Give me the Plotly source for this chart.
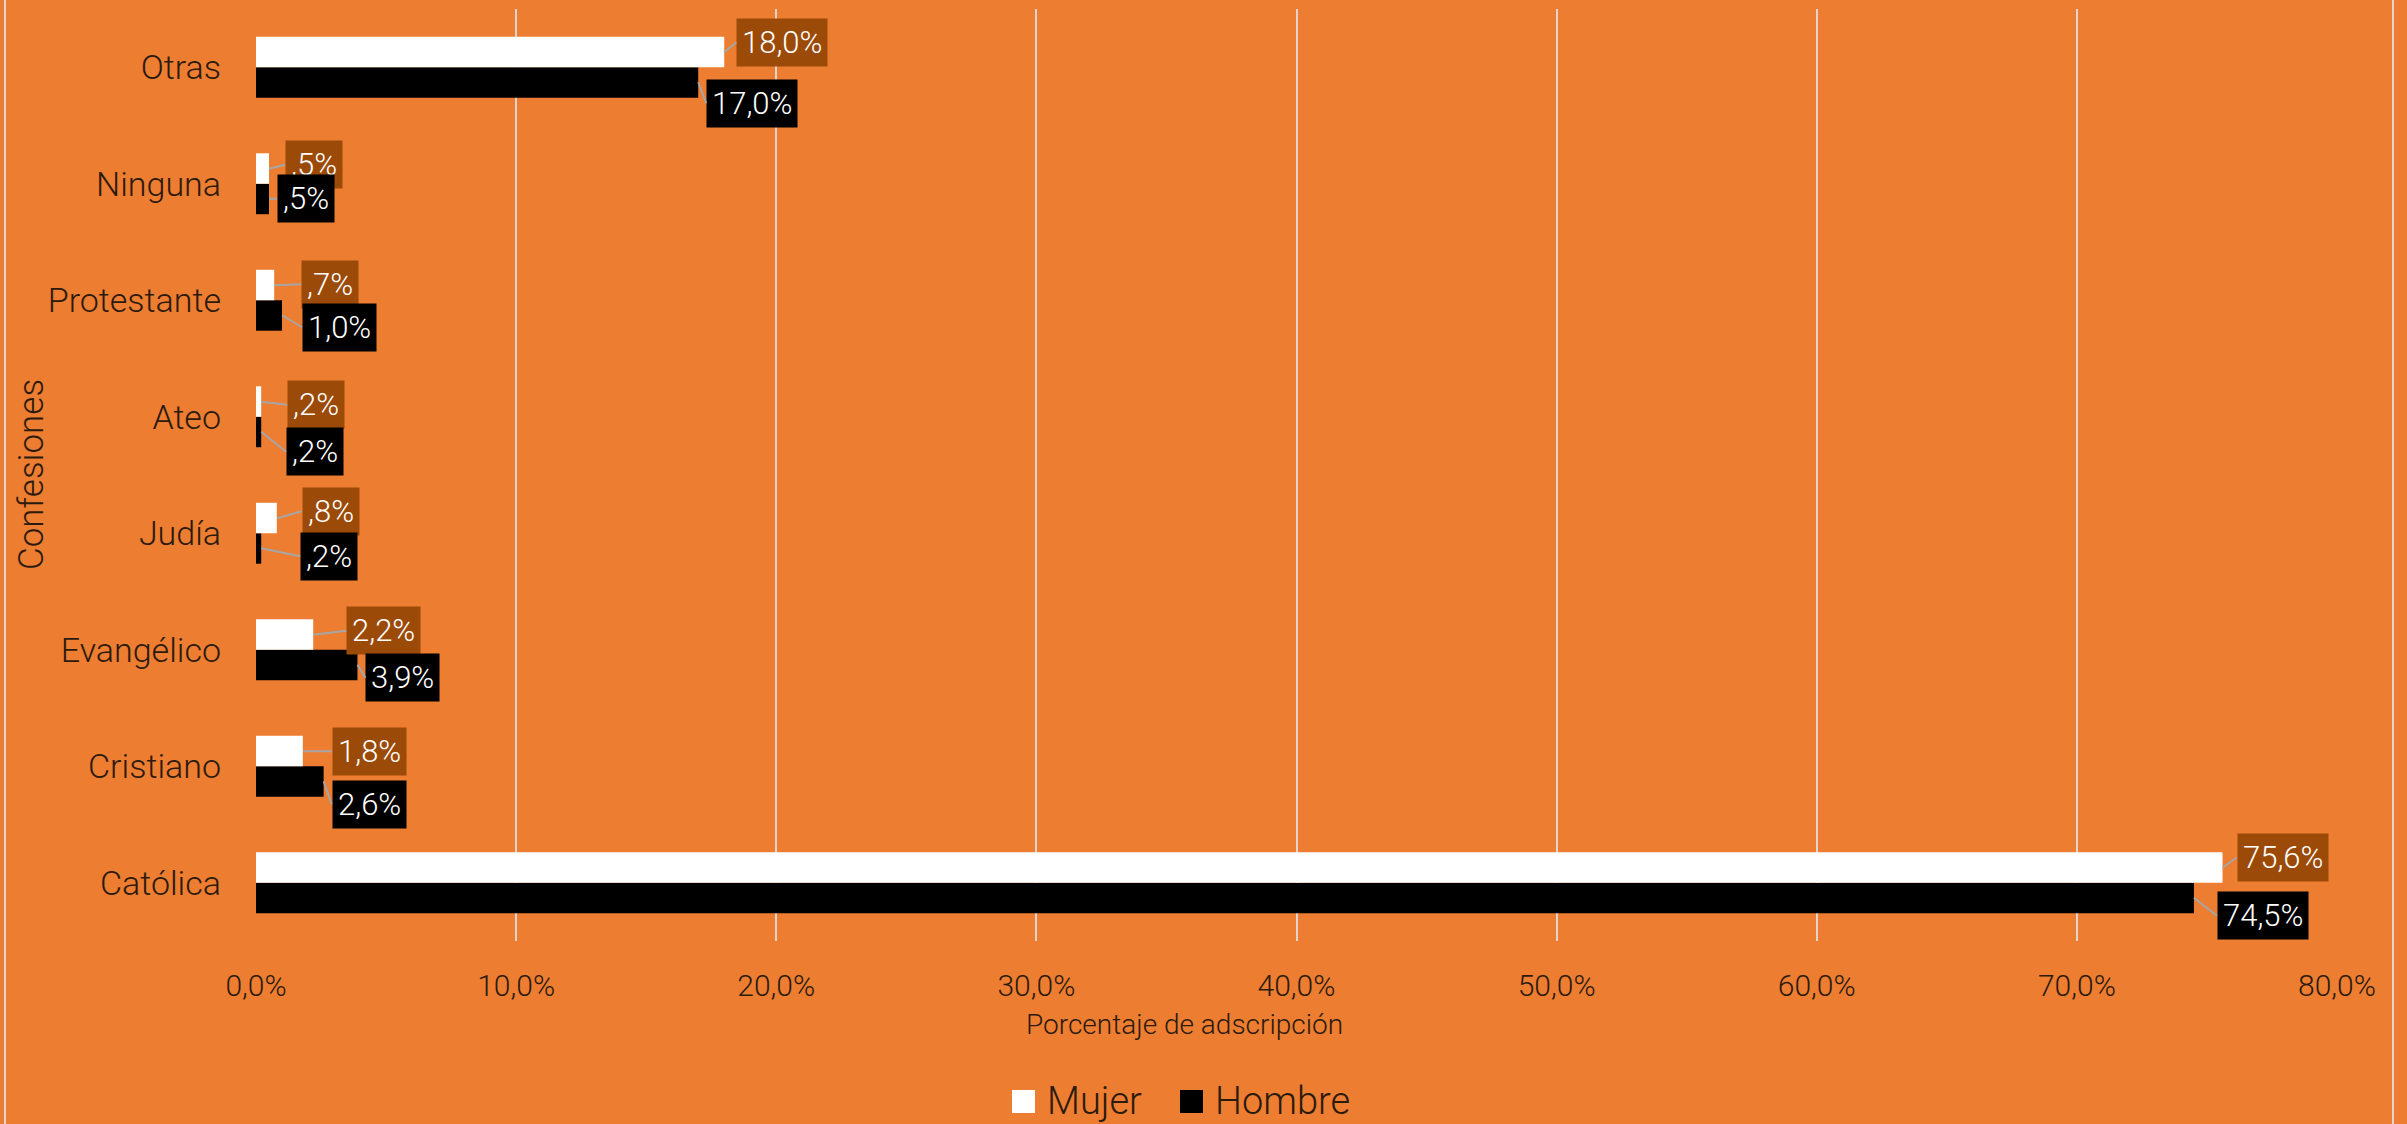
import plotly.graph_objects as go

# ---- data (bottom to top as drawn by the category axis) ----
categories = ["Católica", "Cristiano", "Evangélico", "Judía", "Ateo",
              "Protestante", "Ninguna", "Otras"]
mujer = [75.6, 1.8, 2.2, 0.8, 0.2, 0.7, 0.5, 18.0]
hombre = [74.5, 2.6, 3.9, 0.2, 0.2, 1.0, 0.5, 17.0]
x_ticks = [0, 10, 20, 30, 40, 50, 60, 70, 80]
series_names = ["Mujer", "Hombre"]

# ---- label placement (styling: pixel gap from bar end, pixel vertical offset) ----
mujer_lbl_dx = [14, 29, 33, 25, 26, 27, 16, 12]
mujer_lbl_dy = [-10, 0, -4, -7, 3, -1, -4, -10]
hombre_lbl_dx = [23, 8, 8, 39, 25, 20, 8, 8]
hombre_lbl_dy = [18, 23, 13, 8, 20, 12, 0, 21]

ORANGE = "#ED7D31"
BROWN = "#9B4A07"
TEXT = "#2B1A0E"
GRID = "#E2D4CB"
FONT = "Roboto"

W, H = 2407, 1124
ML, MR, MT, MB = 256, 70, 9, 183
PW, PH = W - ML - MR, H - MT - MB


def fmt(v):
    s = f"{v:.1f}".replace(".", ",")
    if s.startswith("0,"):
        s = s[1:]
    return s + "%"


def tick_fmt(v):
    return f"{v:.1f}".replace(".", ",") + "%"


def px_to_paper_x(px):
    return (px - ML) / PW


def px_to_paper_y(py):
    return (H - MB - py) / PH


fig = go.Figure()
fig.add_trace(go.Bar(y=categories, x=hombre, orientation="h", name="Hombre",
                     marker=dict(color="#000000", line=dict(width=0)),
                     showlegend=False, hoverinfo="x+y"))
fig.add_trace(go.Bar(y=categories, x=mujer, orientation="h", name="Mujer",
                     marker=dict(color="#FFFFFF", line=dict(width=0)),
                     showlegend=False, hoverinfo="x+y"))

annotations = []
for vals, dxs, dys, bg, shift in [(mujer, mujer_lbl_dx, mujer_lbl_dy, BROWN, 15),
                                  (hombre, hombre_lbl_dx, hombre_lbl_dy, "#000000", -15)]:
    for cat, v, dx, dy in zip(categories, vals, dxs, dys):
        annotations.append(dict(
            x=v, y=cat, xref="x", yref="y", text=fmt(v),
            showarrow=True, arrowhead=0, arrowwidth=2, arrowcolor="#A6A6A6",
            standoff=0, ax=dx, ay=dy, axref="pixel", ayref="pixel",
            xanchor="left", yanchor="middle", yshift=shift,
            bgcolor=bg, borderpad=5,
            font=dict(family=FONT, size=31, color="#FFFFFF", weight=300),
        ))

# axis titles
annotations.append(dict(text="Porcentaje de adscripción", xref="paper", yref="paper",
                        x=px_to_paper_x(1184), y=px_to_paper_y(1024),
                        showarrow=False, xanchor="center", yanchor="middle",
                        font=dict(family=FONT, size=28, color=TEXT, weight=300)))
annotations.append(dict(text="Confesiones", xref="paper", yref="paper",
                        x=px_to_paper_x(31), y=0.5, textangle=-90,
                        showarrow=False, xanchor="center", yanchor="middle",
                        font=dict(family=FONT, size=35, color=TEXT, weight=300)))

# legend (manual, large swatches)
shapes = []
legend_items = [(series_names[0], "#FFFFFF", 1012), (series_names[1], "#000000", 1180)]
for name, col, lx in legend_items:
    shapes.append(dict(type="rect", xref="paper", yref="paper",
                       x0=px_to_paper_x(lx), x1=px_to_paper_x(lx + 23),
                       y0=px_to_paper_y(1113), y1=px_to_paper_y(1090),
                       fillcolor=col, line=dict(width=0)))
    annotations.append(dict(text=name, xref="paper", yref="paper",
                            x=px_to_paper_x(lx + 33), y=px_to_paper_y(1101),
                            showarrow=False, xanchor="left", yanchor="middle",
                            font=dict(family=FONT, size=38, color=TEXT, weight=300)))

# chart-area side borders
for bx in (5, 2393):
    shapes.append(dict(type="line", xref="paper", yref="paper",
                       x0=px_to_paper_x(bx), x1=px_to_paper_x(bx),
                       y0=px_to_paper_y(H + 5), y1=px_to_paper_y(-5),
                       line=dict(color=GRID, width=2)))

fig.update_layout(
    width=W, height=H,
    margin=dict(l=ML, r=MR, t=MT, b=MB, pad=0),
    paper_bgcolor=ORANGE, plot_bgcolor=ORANGE,
    barmode="group", bargap=0.477, bargroupgap=0,
    separators=",.",
    font=dict(family=FONT, color=TEXT, weight=300),
    showlegend=False,
    annotations=annotations,
    shapes=shapes,
    xaxis=dict(range=[0, 80], tickmode="array", tickvals=x_ticks,
               ticktext=[tick_fmt(t) for t in x_ticks],
               showgrid=True, gridcolor=GRID, gridwidth=2, zeroline=False,
               showline=False, ticks="", ticklabelstandoff=24,
               tickfont=dict(family=FONT, size=30, color=TEXT, weight=300)),
    yaxis=dict(type="category", categoryorder="array", categoryarray=categories,
               range=[-0.5, len(categories) - 0.5],
               showgrid=False, zeroline=False, showline=False, ticks="",
               ticklabelstandoff=34,
               tickfont=dict(family=FONT, size=34, color=TEXT, weight=300)),
)

fig.write_html("out.html", config={"displayModeBar": False},
               post_script="document.body.style.margin='0';")
